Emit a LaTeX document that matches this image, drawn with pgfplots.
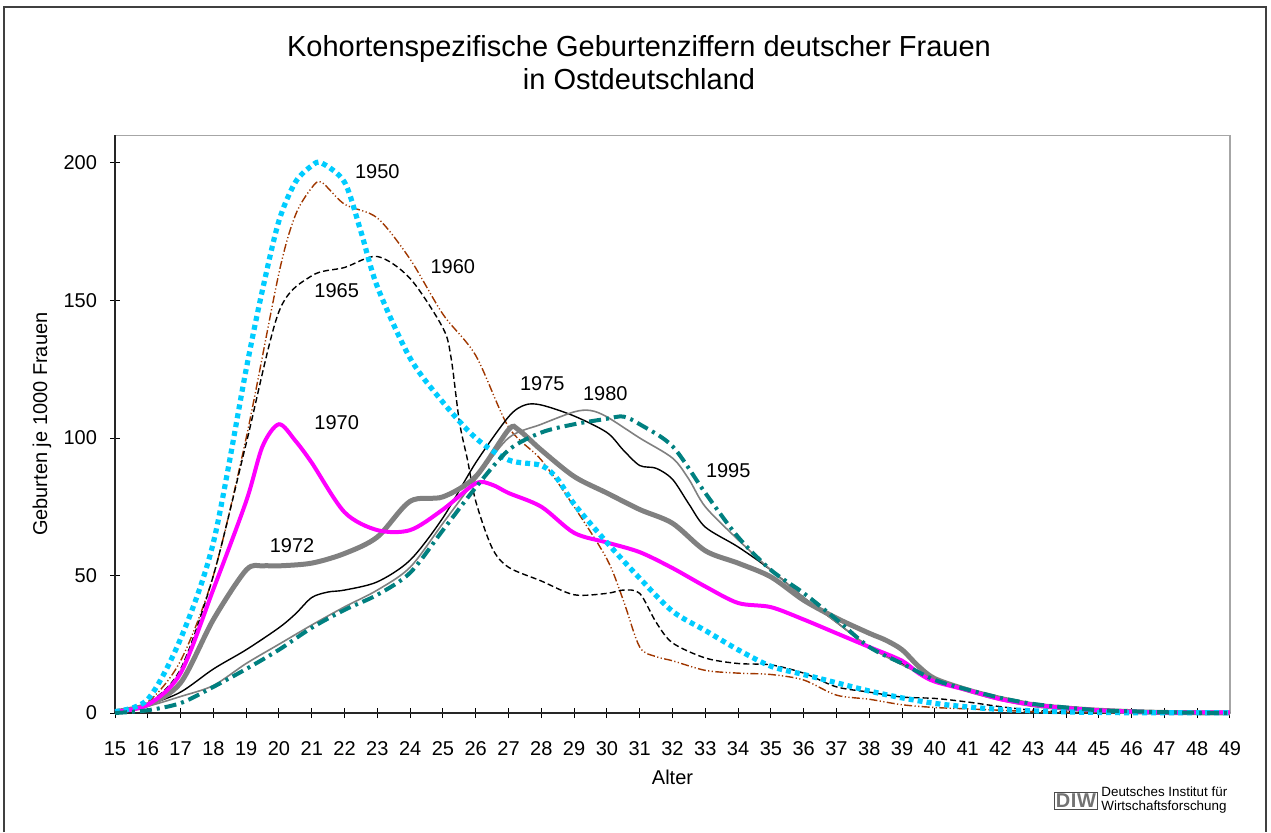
\documentclass[border=0pt]{standalone}
\usepackage{fontspec}
\setmainfont{Liberation Sans}
\usepackage{pgfplots}
\pgfplotsset{compat=1.18}
\definecolor{cCyan}{RGB}{0,204,255}
\definecolor{cBrown}{RGB}{160,55,0}
\definecolor{cMag}{RGB}{255,0,255}
\definecolor{cGray}{RGB}{128,128,128}
\definecolor{cTeal}{RGB}{0,128,128}
\begin{document}
\begin{tikzpicture}
\useasboundingbox (0,0) rectangle (635.5pt,416pt);
\draw[black!75, line width=1pt] (2pt,0) -- (2pt,412.5pt) -- (633pt,412.5pt) -- (633pt,0);
\node[anchor=base, font=\fontsize{14.5}{17}\selectfont] at (319.5pt,387.5pt) {Kohortenspezifische Geburtenziffern deutscher Frauen};
\node[anchor=base, font=\fontsize{14.5}{17}\selectfont] at (319.5pt,371pt) {in Ostdeutschland};
\begin{axis}[
  at={(57.5pt,59.5pt)}, anchor=origin,
  scale only axis, width=557.5pt, height=288.75pt,
  xmin=15, xmax=49, ymin=0, ymax=210,
  xtick={15,...,49}, ytick={0,50,100,150,200},
  tick pos=left, tick align=center, major tick length=5pt,
  tick style={black, line width=0.5pt},
  axis line style={draw=gray!70, line width=0.7pt},
  /pgf/number format/assume math mode=true,
  ticklabel style={font=\fontsize{10}{12}\selectfont},
  xticklabel style={anchor=base, yshift=-18.5pt},
  yticklabel style={xshift=-3pt},
  every axis x label/.style={at={(axis description cs:0.5,-0.1108)}, anchor=center, font=\fontsize{10}{12}\selectfont},
  every axis y label/.style={at={(axis description cs:-0.0655,0.5)}, anchor=center, rotate=90, font=\fontsize{10}{12}\selectfont},
  xlabel={Alter}, ylabel={Geburten je 1000 Frauen},
  clip=false,
]
\draw[black!85, line width=0.7pt] (rel axis cs:0,1) -- (rel axis cs:0,0) -- (rel axis cs:1,0);
% 1960
\addplot[cBrown, line width=0.7pt, smooth, tension=0.5, dash pattern=on 4pt off 1.2pt on 0.6pt off 1.2pt on 0.6pt off 1.2pt] coordinates {
(15,0.5)(16,4)(17,19)(18,50)(19,100)(20,160)(20.5,181)(21,191)(21.3,193)(22,185)(23,180)(24,165)(25,145)(26,130)(27,104)(28,92)(29,75)(30,56)(30.5,41)(31,24)(31.5,20.5)(32,19)(33,15.5)(34,14.5)(35,14)(36,12)(37,6.5)(38,5)(39,3)(40,2)(41,1.5)(42,1)(43,0.5)(44,0.3)(45,0.1)(46,0)(47,0)(48,0)(49,0)};
% 1965
\addplot[black, line width=0.7pt, smooth, tension=0.5, dash pattern=on 3pt off 1.6pt] coordinates {
(15,0.5)(16,3.5)(17,16)(18,50)(19,98)(20,146)(21,159)(22,162)(23,166)(24,158)(25,140)(25.25,129)(25.5,106)(25.75,92)(26,77)(26.5,60)(27,53)(28,48)(29,43)(30,43.5)(30.5,44.7)(31,43.5)(31.5,33)(32,25.5)(33,20)(34,18)(35,17.5)(36,14.5)(37,9.5)(38,7.6)(39,5.8)(40,5.3)(41,4)(42,2.3)(43,1)(44,0.5)(45,0.2)(46,0.1)(47,0)(48,0)(49,0)};
% 1975
\addplot[black, line width=0.7pt, smooth, tension=0.5] coordinates {
(15,0.5)(16,3)(17,7.6)(18,16)(19,23)(20,31)(20.5,36)(21,42)(21.5,44)(22,44.7)(23,47.7)(24,55.6)(25,71)(26,91)(27,107.7)(27.5,112)(28,112)(29,108)(30,102)(30.5,95.6)(31,90)(31.5,89)(32,85)(32.5,76)(33,67.6)(34,60.4)(35,52)(36,42)(37,33)(38,24)(39,18)(40,12)(41,8.5)(42,5.5)(43,3)(44,1.8)(45,1)(46,0.5)(47,0.2)(48,0.1)(49,0)};
% 1980
\addplot[cGray, line width=0.8pt, smooth, tension=0.5] coordinates {
(15,0.5)(16,2.5)(17,6)(18,10)(19,18)(20,25)(21,32)(22,38.6)(23,44.7)(24,53)(25,69)(26,85)(27,100)(28,105)(29,109.5)(29.5,110)(30,107.7)(31,100)(32,92.7)(32.5,85)(33,75)(34,63)(35,52)(36,42)(37,33)(38,24)(39,17.5)(40,12)(41,8.5)(42,5.5)(43,3.5)(44,2)(45,1.2)(46,0.6)(47,0.3)(48,0.1)(49,0)};
% 1972
\addplot[cGray, line width=2.5pt, smooth, tension=0.5] coordinates {
(15,0.5)(16,3)(17,11)(18,34)(19,52)(19.5,53.5)(20,53.5)(21,54.5)(22,58)(23,64)(24,77)(25,78.6)(26,86)(27,103)(27.3,103)(28,95.6)(29,86)(30,80)(31,74)(32,69)(33,59)(34,54.5)(35,49.5)(36,41)(37,34.5)(38,29)(38.5,26.5)(39,23)(39.5,17)(40,12.5)(41,8.4)(42,5.3)(43,3)(44,1.8)(45,1)(46,0.5)(47,0.2)(48,0.1)(49,0)};
% 1970
\addplot[cMag, line width=2pt, smooth, tension=0.5] coordinates {
(15,0.5)(16,3)(17,14.5)(18,45)(19,77)(19.5,97)(20,105)(20.5,99)(21,91)(22,73)(23,66.5)(24,66.5)(25,74)(26,83.5)(26.5,83)(27,80)(28,75)(29,65.5)(30,62)(31,58.5)(32,52.7)(33,46)(34,40)(35,38.5)(36,34)(37,29)(38,24)(39,19)(39.5,14.5)(40,11.4)(41,8.3)(42,5)(43,3)(44,1.8)(45,1)(46,0.5)(47,0.2)(48,0.2)(49,0.2)};
% 1950
\addplot[cCyan, line width=2.6pt, smooth, tension=0.5, dash pattern=on 2.5pt off 2pt] coordinates {
(15,0.5)(16,5)(17,27)(18,62)(19,125)(19.5,154)(20,179)(20.5,193)(21,199)(21.3,200)(22,193)(22.5,175)(23,155)(24,129)(25,113)(26,100)(27,92)(28,90)(28.5,85)(29,76)(30,62)(31,49)(32,37)(33,30)(34,23)(35,17)(36,14)(37,11)(38,8)(39,5.5)(40,3.5)(41,2.2)(42,1.3)(43,0.8)(44,0.4)(45,0.2)(46,0.1)(47,0.1)(48,0.1)(49,0.1)};
% 1995
\addplot[cTeal, line width=2pt, smooth, tension=0.5, dash pattern=on 6pt off 2.5pt on 1.5pt off 2.5pt] coordinates {
(15,0)(16,1)(17,3.6)(18,9.5)(19,16)(20,23)(21,31)(22,37.5)(23,43)(24,51)(25,66.5)(26,82)(27,95.6)(28,102)(29,105)(30,107)(30.5,107.8)(31,105)(32,97)(33,80)(34,64)(35,52)(36,43.6)(37,34)(38,24)(39,18)(40,12)(41,8.5)(42,5.5)(43,3.3)(44,2)(45,1)(46,0.6)(47,0.3)(48,0.1)(49,0)};
\begin{scope}[every node/.style={font=\fontsize{10}{12}\selectfont, anchor=center}]
\node at (axis cs:23,196.7) {1950};
\node at (axis cs:25.3,162.5) {1960};
\node at (axis cs:21.76,153.5) {1965};
\node at (axis cs:21.76,105.5) {1970};
\node at (axis cs:20.4,60.7) {1972};
\node at (axis cs:28.03,119.6) {1975};
\node at (axis cs:29.95,116) {1980};
\node at (axis cs:33.7,88) {1995};
\end{scope}
\end{axis}
\node[draw=black!70, line width=0.6pt, inner sep=0.7pt, anchor=east, font=\fontsize{10}{11}\bfseries\selectfont, text=black!55] at (549pt,15.5pt) {D\kern0.3pt I\kern0.3pt W};
\node[anchor=west, align=left, inner sep=0pt, font=\fontsize{6.7}{6.9}\selectfont] at (550.5pt,16pt) {Deutsches Institut für\\Wirtschaftsforschung};
\end{tikzpicture}
\end{document}
